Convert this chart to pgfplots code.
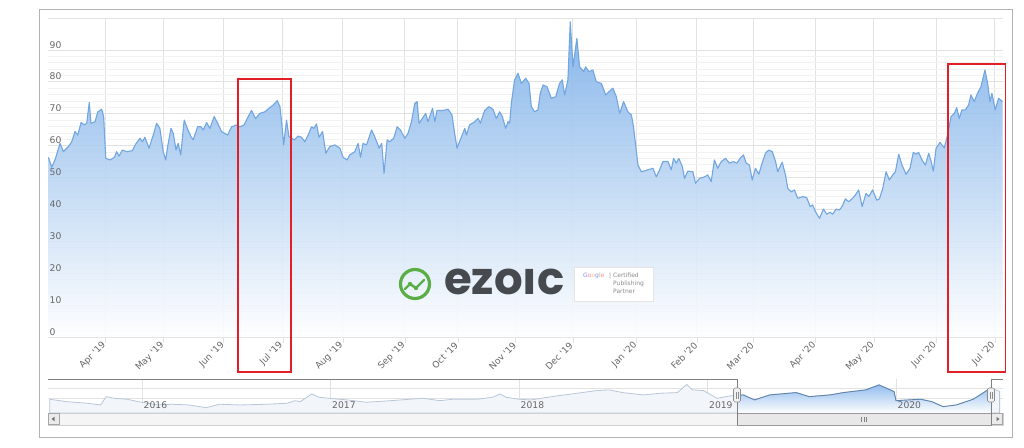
\documentclass[border=0pt]{standalone}
\usepackage{fontspec}
\setmainfont{DejaVu Sans}
\newfontfamily\logofont{Poppins}
\usepackage{pgfplots}
\usepackage{pgfplotstable}
\pgfplotsset{compat=1.18}

\definecolor{gridc}{HTML}{E2E2E2}
\definecolor{labc}{HTML}{666666}
\definecolor{linec}{HTML}{72A6E0}
\definecolor{fillt}{HTML}{76ACE8}
\definecolor{navline}{HTML}{B9C7D8}
\definecolor{navfill}{HTML}{F2F6FB}
\definecolor{selline}{HTML}{5F84AE}
\definecolor{seltop}{HTML}{93BDEE}
\definecolor{redbox}{HTML}{E21F26}
\definecolor{ezgreen}{HTML}{5AAE45}
\definecolor{ezgray}{HTML}{464A4F}

\pgfplotsset{
  mainax/.style={
    at={(48pt,110pt)}, anchor=south west,
    scale only axis, width=955pt, height=319pt,
    xmin=-29.3, xmax=461.5, ymin=0, ymax=100,
    axis line style={draw=none}, tick style={draw=none},
    tick align=inside, xtick pos=bottom, ytick pos=left,
    xtick={0,30,61,91,122,154,181,211,240,273,304,333,365,395,427,457},
    ytick={0,10,...,90},
  },
  navax/.style={
    at={(48pt,34pt)}, anchor=south west,
    scale only axis, width=955pt, height=34pt,
    xmin=2015.501, xmax=2020.568, ymin=16.5, ymax=116,
    axis line style={draw=none}, tick style={draw=none},
    xtick={2016,2017,2018,2019,2020},
  },
}

% daily price, x = days from 1 Apr 2019
\pgfplotstableread{
d v
-29.1 56.3
-27.4 53.2
-25.7 55.5
-23.1 60.7
-21.4 58.1
-18.8 59.7
-17.1 61.2
-15.4 64.4
-14.0 63.3
-12.3 67.2
-10.6 66.5
-9.4 67.0
-8.1 73.5
-7.2 67.0
-5.1 67.5
-3.7 70.6
-1.7 71.4
-0.7 69.1
0.4 56.0
2.6 55.5
4.8 56.3
6.0 58.1
7.2 56.7
8.9 58.6
11.1 58.1
14.0 58.4
15.8 60.5
18.0 62.3
19.2 61.2
20.5 62.6
22.6 59.2
24.8 63.3
26.5 67.0
28.2 65.4
29.9 58.1
31.2 55.5
32.2 59.7
33.9 65.4
35.1 63.8
36.5 58.6
37.6 60.7
38.9 57.1
40.7 68.0
42.5 65.1
44.2 62.8
45.3 61.8
47.6 65.9
49.3 65.9
50.5 64.9
52.2 67.2
53.9 65.4
56.1 69.1
57.9 67.0
59.9 64.4
63.0 63.3
65.1 65.9
67.6 66.5
69.3 65.9
71.5 66.5
73.6 69.1
75.3 71.0
77.4 68.5
79.6 70.1
82.2 70.6
84.2 71.7
86.4 72.7
88.5 74.1
89.9 72.2
91.0 65.9
91.8 60.2
93.3 68.0
94.5 62.8
95.9 62.3
97.2 61.8
99.3 63.0
101.0 62.6
102.7 61.2
104.4 63.3
106.1 65.9
107.3 65.4
108.7 66.8
110.0 62.6
111.8 64.4
113.5 57.6
115.5 59.7
118.1 60.2
120.7 59.2
122.4 56.3
124.4 55.5
125.8 57.1
128.4 58.1
130.1 60.7
131.3 56.3
132.6 60.7
134.4 60.2
137.0 64.9
138.6 62.8
140.9 59.2
142.2 60.7
143.4 51.3
145.0 61.8
146.3 61.2
148.4 62.3
150.1 65.9
151.8 64.9
154.1 62.3
155.7 63.8
157.5 67.5
159.2 73.2
160.4 73.8
161.4 67.0
163.1 68.5
164.8 70.1
166.0 67.5
168.3 71.7
169.5 67.5
170.6 71.0
173.7 71.0
176.3 71.4
178.3 69.6
179.7 63.8
180.9 59.2
183.2 62.8
184.9 65.4
185.7 63.3
187.4 66.5
190.0 67.5
191.7 68.5
192.9 67.0
195.1 71.0
197.3 72.2
199.4 71.4
201.1 68.5
202.8 70.6
204.2 69.1
205.9 65.4
207.1 67.5
208.0 67.0
208.8 73.2
210.5 80.6
212.2 82.7
214.0 79.5
216.2 81.1
217.9 79.5
219.1 72.2
220.8 70.6
222.5 71.2
223.7 76.4
225.1 79.0
227.1 78.5
229.4 74.8
231.6 75.3
233.6 79.5
235.0 80.6
236.2 75.9
237.9 80.6
239.1 98.8
240.5 84.7
242.5 93.6
243.9 84.7
246.0 83.2
247.0 84.7
248.7 83.2
250.7 83.7
252.5 80.0
255.1 79.5
257.3 75.9
259.0 76.9
261.0 78.0
262.8 75.3
264.5 70.1
266.5 73.8
268.7 70.6
270.5 69.6
271.6 65.9
273.9 53.9
275.6 51.8
279.0 52.4
281.6 52.9
283.3 50.2
285.0 52.4
286.7 55.0
289.3 55.0
291.0 52.4
292.2 56.0
293.6 54.5
294.9 56.0
296.7 53.4
297.8 49.7
299.5 52.0
302.1 51.8
303.5 48.2
305.5 49.7
308.1 50.2
309.8 50.8
311.5 48.7
313.2 55.5
314.9 52.9
316.7 55.0
318.9 56.0
320.9 54.5
323.0 55.0
324.7 54.5
326.4 56.0
328.1 57.1
329.5 54.5
331.2 53.9
332.6 49.2
334.3 52.9
336.0 51.0
337.7 54.5
339.4 57.6
341.1 58.6
342.9 58.1
344.6 55.0
345.7 51.8
348.0 54.8
349.7 50.8
350.9 46.6
352.6 45.5
354.3 46.1
356.0 43.5
358.6 44.0
360.6 43.7
362.4 40.9
363.7 41.4
365.1 39.3
367.2 37.2
369.2 40.1
370.9 38.5
372.6 39.1
374.0 38.5
375.7 40.1
377.4 39.8
378.8 40.9
380.5 43.3
382.2 42.4
383.9 43.3
385.6 44.5
387.3 46.1
389.1 40.9
391.1 45.0
392.5 44.0
394.5 46.1
396.6 42.9
398.0 43.3
399.7 46.6
401.4 51.8
403.1 49.2
404.8 50.8
406.2 51.8
407.9 57.3
409.6 53.9
411.7 51.0
413.7 52.9
415.4 57.9
416.8 57.3
418.1 57.9
419.9 55.5
421.6 53.9
423.3 57.6
424.5 55.2
425.7 52.0
427.1 59.2
429.1 61.0
431.3 59.3
433.0 63.3
434.8 69.1
436.5 70.1
437.7 71.9
439.0 68.5
440.4 71.2
442.1 71.2
443.8 72.7
445.0 75.9
446.7 73.8
448.4 76.4
450.2 78.5
452.2 83.7
453.6 79.5
454.8 73.8
455.8 76.4
457.5 71.2
459.2 74.8
461.3 73.8
}\mainseries

% navigator, x = year
\pgfplotstableread{
y v
2015.51 56.8
2015.60 49.7
2015.71 45.0
2015.78 40.0
2015.81 64.4
2015.85 59.7
2015.92 56.8
2015.98 49.7
2016.08 40.0
2016.16 42.1
2016.25 40.0
2016.34 32.1
2016.41 42.1
2016.52 40.0
2016.66 42.1
2016.77 45.0
2016.81 52.6
2016.84 49.7
2016.90 72.3
2016.94 62.6
2016.99 59.7
2017.09 54.7
2017.19 48.0
2017.30 51.8
2017.42 56.8
2017.49 59.7
2017.58 52.6
2017.65 56.8
2017.78 56.8
2017.86 62.6
2017.90 72.3
2017.93 62.6
2018.00 56.8
2018.06 54.7
2018.20 66.5
2018.31 74.4
2018.41 82.0
2018.48 84.1
2018.55 76.2
2018.66 69.4
2018.75 74.4
2018.84 76.2
2018.89 100.0
2018.92 84.1
2018.98 82.0
2019.05 59.7
2019.12 66.5
2019.16 68.0
2019.19 69.4
2019.25 54.7
2019.33 69.4
2019.47 76.2
2019.54 64.4
2019.65 69.4
2019.72 76.2
2019.84 84.1
2019.91 98.8
2019.99 79.1
2020.00 52.6
2020.13 56.8
2020.19 49.7
2020.25 35.0
2020.32 40.0
2020.41 56.8
2020.46 74.4
2020.50 89.1
2020.51 88.0
2020.55 80.0
}\navseries

\begin{document}
\begin{tikzpicture}[x=1pt,y=1pt]
\path[use as bounding box, fill=white] (0,0) rectangle (1024,447);

% main chart: grid and series
\begin{axis}[mainax,
  xticklabels={}, yticklabels={},
  extra y ticks={100}, extra y tick labels={},
  minor y tick num=4,
  xmajorgrids, ymajorgrids, yminorgrids,
  major grid style={gridc, line width=0.7pt},
  minor grid style={black!5, line width=0.5pt},
]
\addplot[draw=none, top color=fillt, bottom color=white, fill opacity=0.88] table[x=d, y=v] {\mainseries} \closedcycle;
\addplot[linec, line width=1.1pt, line join=round] table[x=d, y=v] {\mainseries};
\end{axis}

% main chart: tick labels on top
\begin{axis}[mainax,
  xticklabels={Apr \textquotesingle19,May \textquotesingle19,Jun \textquotesingle19,Jul \textquotesingle19,Aug \textquotesingle19,Sep \textquotesingle19,Oct \textquotesingle19,Nov \textquotesingle19,Dec \textquotesingle19,Jan \textquotesingle20,Feb \textquotesingle20,Mar \textquotesingle20,Apr \textquotesingle20,May \textquotesingle20,Jun \textquotesingle20,Jul \textquotesingle20},
  xticklabel style={yshift=-6pt, rotate=45, anchor=east, inner sep=1pt,
    font=\fontsize{9}{10}\selectfont, text=labc},
  yticklabel style={anchor=base west, xshift=1.5pt, yshift=1.8pt, inner sep=0pt,
    font=\fontsize{9.2}{10}\selectfont, text=labc},
  /pgf/number format/assume math mode=true,
]
\end{axis}

% gridline stubs below the plot
\foreach \gx in {105,163,223,283,343,405,458,515,573,636,697,753,815,874,936,995}
  \draw[gridc, line width=0.7pt] (\gx,110) -- (\gx,104);

% navigator: grid and series
\begin{axis}[navax,
  xticklabels={},
  ytick={60,90}, yticklabels={},
  xmajorgrids, ymajorgrids,
  major grid style={gridc, line width=0.6pt},
]
\addplot[draw=navline, fill=navfill, line width=0.8pt] table[x=y, y=v] {\navseries} \closedcycle;
\addplot[draw=none, top color=seltop, bottom color=white, restrict x to domain=2019.16:2020.51] table[x=y, y=v] {\navseries} \closedcycle;
\addplot[selline, line width=0.9pt, restrict x to domain=2019.16:2020.51] table[x=y, y=v] {\navseries};
\end{axis}

% navigator: year labels
\begin{axis}[navax,
  ytick=\empty,
  xticklabel style={/pgf/number format/1000 sep={}, anchor=base west, xshift=1.5pt, yshift=4.5pt,
    inner sep=0pt, font=\fontsize{9.2}{10}\selectfont, text=labc},
  /pgf/number format/assume math mode=true,
]
\end{axis}

% navigator outline and scrollbar
\fill[black!4] (48,22) rectangle (1003,34);
\draw[black!18, line width=0.6pt] (48,22) rectangle (1003,34);
\draw[black!35, fill=black!8, line width=0.6pt] (48.5,22.5) rectangle (59,33.5);
\fill[black!55] (51.5,28) -- (54.5,30.2) -- (54.5,25.8) -- cycle;
\draw[black!35, fill=black!8, line width=0.6pt] (991,22.5) rectangle (1002.5,33.5);
\fill[black!55] (999.5,28) -- (996.5,30.2) -- (996.5,25.8) -- cycle;
\draw[black!40, fill=black!9, line width=0.6pt] (737,22) rectangle (991,34);
\foreach \gx in {861.5,864,866.5} \draw[black!50, line width=0.5pt] (\gx,25.5) -- (\gx,30.5);
\draw[black!50, line width=1pt] (48,68) -- (737,68) -- (737,22);
\draw[black!50, line width=1pt] (991,22) -- (991,68) -- (1003,68);
\foreach \hx in {737,991} {
  \draw[black!45, fill=black!5, line width=0.6pt, rounded corners=1.5pt] (\hx-3.5,45) rectangle (\hx+3.5,59);
  \draw[black!45, line width=0.5pt] (\hx-1,48.5) -- (\hx-1,55.5) (\hx+1,48.5) -- (\hx+1,55.5);
}

% watermark
\draw[ezgreen, line width=3.2pt] (415,163) circle (14.5);
\draw[ezgreen, line width=2.4pt, line cap=round] (405,158) -- (410,163) -- (416,159) -- (424,167);
\fill[ezgreen] (410,163) circle (2.2) (416,159) circle (2.2);
\node[ezgray, font=\logofont\bfseries\fontsize{45}{45}\selectfont, anchor=base west, inner sep=0pt] at (444,152) {ezoıc};
\draw[black!10, fill=white, line width=0.6pt] (574,146) rectangle (653,180);
\node[anchor=base west, inner sep=0pt, font=\fontsize{6}{7}\selectfont] at (583,169)
  {\textcolor{blue!45}{G}\textcolor{red!45}{o}\textcolor{orange!45}{o}\textcolor{blue!45}{g}\textcolor{green!45!black!45}{l}\textcolor{red!45}{e}};
\node[anchor=base west, inner sep=0pt, font=\fontsize{6}{7}\selectfont, text=black!45] at (609,169) {| Certified};
\node[anchor=base west, inner sep=0pt, font=\fontsize{6}{7}\selectfont, text=black!45] at (613,161) {Publishing};
\node[anchor=base west, inner sep=0pt, font=\fontsize{6}{7}\selectfont, text=black!45] at (613,153) {Partner};

% highlight boxes
\draw[redbox, line width=1.6pt] (238,75) rectangle (291,368);
\draw[redbox, line width=1.6pt] (948,75) rectangle (1005.5,383);

% frame
\draw[black!30, line width=1pt] (39,9.5) rectangle (1012,437);
\end{tikzpicture}
\end{document}
